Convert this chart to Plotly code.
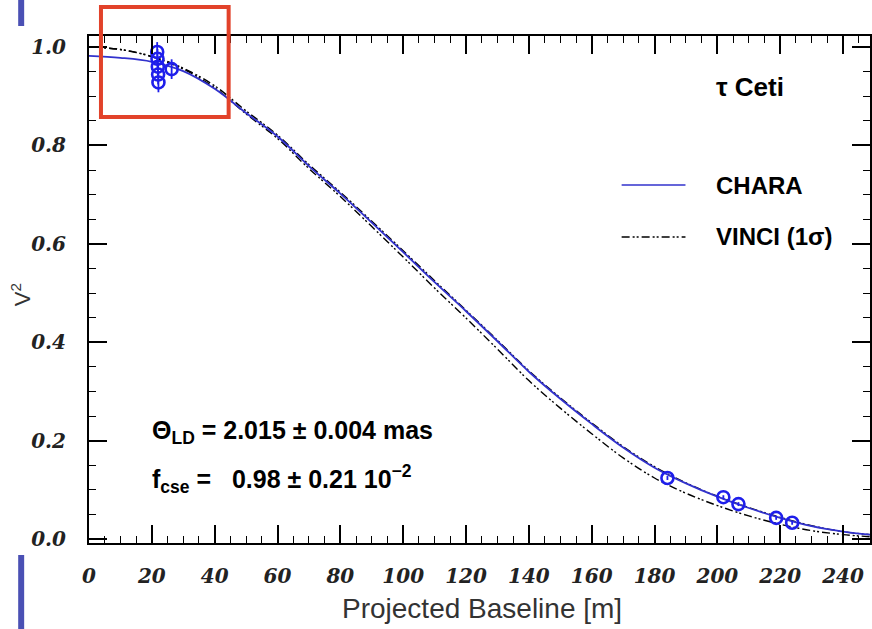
import plotly.graph_objects as go

# Model visibility curves, V^2 versus projected baseline (m)
baseline_grid = [0, 10, 20, 30, 40, 50, 60, 70, 80, 90, 100, 110, 120, 130,
                 140, 150, 160, 170, 180, 190, 200, 210, 220, 230, 240, 250]
chara_v2 = [0.982, 0.978, 0.970, 0.951, 0.915, 0.866, 0.818, 0.758, 0.702, 0.643,
            0.583, 0.522, 0.463, 0.402, 0.340, 0.285, 0.234, 0.186, 0.145, 0.113,
            0.086, 0.063, 0.043, 0.026, 0.015, 0.008]
vinci_hi_v2 = [1.000, 0.995, 0.981, 0.957, 0.921, 0.870, 0.821, 0.761, 0.705, 0.646,
               0.586, 0.525, 0.465, 0.404, 0.342, 0.287, 0.236, 0.188, 0.147, 0.114,
               0.087, 0.064, 0.044, 0.027, 0.015, 0.008]
vinci_lo_v2 = [1.000, 0.995, 0.980, 0.955, 0.917, 0.864, 0.814, 0.753, 0.696, 0.635,
               0.573, 0.510, 0.449, 0.386, 0.322, 0.266, 0.214, 0.165, 0.124, 0.093,
               0.068, 0.047, 0.030, 0.017, 0.009, 0.004]

# CHARA measurements
obs_baseline = [21.7, 21.8, 21.9, 22.0, 22.1, 26.3, 184.1, 201.9, 206.7, 218.7, 223.8]
obs_v2 = [0.990, 0.976, 0.960, 0.944, 0.928, 0.955, 0.124, 0.085, 0.071, 0.043, 0.033]
obs_err = [0.02, 0.02, 0.02, 0.02, 0.02, 0.02, 0.004, 0.004, 0.004, 0.004, 0.004]

x_ticks = list(range(0, 241, 20))
y_ticks = [0.0, 0.2, 0.4, 0.6, 0.8, 1.0]

W, H = 872, 629
ML, MR, MT, MB = 89, 0, 36, 86
PW, PH = W - ML - MR, H - MT - MB

def px(p):
    return (p - ML) / PW

def py(p):
    return (H - MB - p) / PH

BLUE = "rgb(50,50,205)"
MARK = "rgb(30,30,235)"
DASH = "8px,3px,2px,2px,2px,3px"

fig = go.Figure()
fig.add_trace(go.Scatter(x=baseline_grid, y=vinci_hi_v2, mode="lines", line_shape="spline",
                         line=dict(color="black", width=1.4, dash=DASH), showlegend=False))
fig.add_trace(go.Scatter(x=baseline_grid, y=vinci_lo_v2, mode="lines", line_shape="spline",
                         line=dict(color="black", width=1.4, dash=DASH), showlegend=False))
fig.add_trace(go.Scatter(x=baseline_grid, y=chara_v2, mode="lines", line_shape="spline",
                         line=dict(color=BLUE, width=1.8), showlegend=False))
fig.add_trace(go.Scatter(x=obs_baseline, y=obs_v2, mode="markers",
                         marker=dict(symbol="circle-open", size=12, color=MARK,
                                     line=dict(width=2.6, color=MARK)),
                         error_y=dict(type="data", array=obs_err, color=MARK,
                                      thickness=1.8, width=0),
                         showlegend=False))

tickfont = dict(family="DejaVu Serif", size=20, color="#222", style="italic", weight="bold")
axis_common = dict(showline=True, linecolor="black", linewidth=2, mirror="ticks",
                   ticks="inside", ticklen=18, tickwidth=1.5, tickcolor="black",
                   showgrid=False, zeroline=False, tickfont=tickfont)

fig.update_xaxes(range=[0, PW / 3.15], tickvals=x_ticks, ticklabelstandoff=14,
                 minor=dict(dtick=5, tick0=0, ticks="inside", ticklen=7,
                            tickwidth=1.2, tickcolor="black"),
                 **axis_common)
fig.update_yaxes(range=[-0.0081, -0.0081 + PH / 492], tickvals=y_ticks, tickformat=".1f",
                 ticklabelstandoff=17,
                 minor=dict(dtick=0.05, tick0=0, ticks="inside", ticklen=7,
                            tickwidth=1.2, tickcolor="black"),
                 **axis_common)

key_font = dict(family="Liberation Sans", size=24, color="black", weight="bold")
note_font = dict(family="Liberation Sans", size=25, color="black", weight="bold")
text_items = [
    (483, 608, "Projected Baseline [m]", "center",
     dict(family="Liberation Sans", size=28, color="#333"), 0),
    (21, 295, "V<sup>2</sup>", "center",
     dict(family="Liberation Sans", size=22, color="#333"), -90),
    (716, 87, "τ Ceti", "left",
     dict(family="Liberation Sans", size=26, color="black", weight="bold"), 0),
    (716, 186, "CHARA", "left", key_font, 0),
    (716, 236, "VINCI (1σ)", "left", key_font, 0),
    (150, 432, "Θ<sub>LD</sub> = 2.015 ± 0.004 mas", "left", note_font, 0),
    (150, 479, "f<sub>cse</sub> =   0.98 ± 0.21 10<sup>−2</sup>", "left", note_font, 0),
]
annotations = [
    dict(x=px(xp), y=py(yp), xref="paper", yref="paper", text=t, showarrow=False,
         font=f, xanchor=anc, yanchor="middle", textangle=ang)
    for xp, yp, t, anc, f, ang in text_items
]

shapes = [
    # key lines
    dict(type="line", xref="paper", yref="paper", x0=px(623), x1=px(687),
         y0=py(185), y1=py(185), line=dict(color=BLUE, width=1.6)),
    dict(type="line", xref="paper", yref="paper", x0=px(623), x1=px(687),
         y0=py(237), y1=py(237), line=dict(color="black", width=1.4, dash=DASH)),
    # highlight frame around the short-baseline points
    dict(type="rect", xref="paper", yref="paper", x0=px(101), x1=px(229),
         y0=py(7), y1=py(117), line=dict(color="rgb(226,66,42)", width=4)),
    # side bars at the left edge
    dict(type="rect", xref="paper", yref="paper", x0=px(18), x1=px(24),
         y0=py(0), y1=py(26), fillcolor="rgb(74,80,180)", line=dict(width=0)),
    dict(type="rect", xref="paper", yref="paper", x0=px(18), x1=px(24),
         y0=py(555), y1=py(629), fillcolor="rgb(74,80,180)", line=dict(width=0)),
]

fig.update_layout(width=W, height=H, margin=dict(l=ML, r=MR, t=MT, b=MB),
                  paper_bgcolor="white", plot_bgcolor="white",
                  annotations=annotations, shapes=shapes, showlegend=False)

fig.write_html("out.html")
